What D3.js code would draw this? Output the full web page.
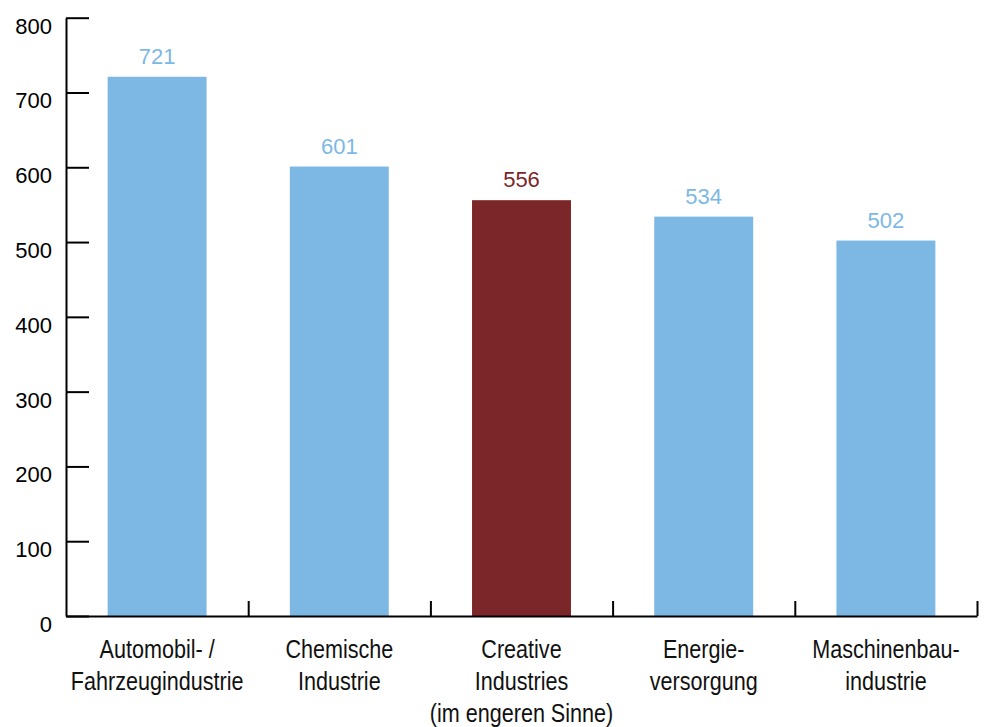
<!DOCTYPE html>
<html>
<head>
<meta charset="utf-8">
<script src="https://cdn.jsdelivr.net/npm/d3@7"></script>
<style>
  body { margin: 0; background: #fff; }
  svg { display: block; }
</style>
</head>
<body>
<div id="chart"></div>
<script>
// categories, one entry per bar (lines of each label)
const categories = [
  ["Automobil- /", "Fahrzeugindustrie"],
  ["Chemische", "Industrie"],
  ["Creative", "Industries", "(im engeren Sinne)"],
  ["Energie-", "versorgung"],
  ["Maschinenbau-", "industrie"]
];
const values = [721, 601, 556, 534, 502];
const highlighted = [false, false, true, false, false];
const yTicks = [0, 100, 200, 300, 400, 500, 600, 700, 800];

const width = 984;
const height = 727;
const blue = "#7db8e5";
const red = "#7b2629";

const svg = d3.select("#chart")
  .append("svg")
  .attr("width", width)
  .attr("height", height);

const keys = categories.map((c) => c.join(" "));

const xScale = d3.scaleBand()
  .domain(keys)
  .range([66, 977])
  .paddingInner(0.457)
  .paddingOuter(0.2285);

// band boundaries for the axis ticks
const step = xScale.step();
const x0 = 66;

const yScale = d3.scaleLinear()
  .domain([0, 800])
  .range([616, 17.7]);

// bars
svg.append("g")
  .selectAll("rect")
  .data(values)
  .join("rect")
  .attr("x", (d, i) => xScale(keys[i]))
  .attr("y", (d) => yScale(d))
  .attr("width", xScale.bandwidth())
  .attr("height", (d) => yScale(0) - yScale(d))
  .attr("fill", (d, i) => (highlighted[i] ? red : blue));

// value labels
svg.append("g")
  .selectAll("text")
  .data(values)
  .join("text")
  .attr("x", (d, i) => xScale(keys[i]) + xScale.bandwidth() / 2)
  .attr("y", (d) => yScale(d) - 13)
  .attr("text-anchor", "middle")
  .attr("font-family", "'Liberation Sans', Arial, sans-serif")
  .attr("font-size", "22px")
  .attr("fill", (d, i) => (highlighted[i] ? red : blue))
  .text((d) => d);

// y axis (ticks point inward)
const yAxis = svg.append("g")
  .attr("transform", "translate(66,0)")
  .call(d3.axisRight(yScale).tickValues(yTicks).tickSize(23).tickSizeOuter(0).tickFormat(""));
yAxis.select(".domain").attr("stroke", "#000").attr("stroke-width", 2);
yAxis.selectAll(".tick line").attr("stroke", "#000").attr("stroke-width", 2);

svg.append("g")
  .selectAll("text")
  .data(yTicks)
  .join("text")
  .attr("x", 52)
  .attr("y", (d) => yScale(d) + 16)
  .attr("text-anchor", "end")
  .attr("font-family", "'Liberation Sans', Arial, sans-serif")
  .attr("font-size", "22px")
  .attr("fill", "#000")
  .text((d) => d);

// x axis with ticks at band boundaries, pointing up
const boundaryScale = d3.scaleLinear().domain([0, 5]).range([x0, x0 + step * 5]);
const xAxis = svg.append("g")
  .attr("transform", "translate(0,616)")
  .call(d3.axisTop(boundaryScale).tickValues([1, 2, 3, 4, 5]).tickSize(15).tickSizeOuter(0).tickFormat(""));
xAxis.select(".domain").attr("stroke", "#000").attr("stroke-width", 2);
xAxis.selectAll(".tick line").attr("stroke", "#000").attr("stroke-width", 2);

// category labels
const catGroup = svg.append("g");
categories.forEach((lines, i) => {
  const cx = xScale(keys[i]) + xScale.bandwidth() / 2;
  lines.forEach((line, j) => {
    catGroup.append("text")
      .attr("transform", `translate(${cx},${657.5 + j * 32}) scale(0.83,1)`)
      .attr("text-anchor", "middle")
      .attr("font-family", "'Liberation Sans', Arial, sans-serif")
      .attr("font-size", "26px")
      .attr("fill", "#111")
      .text(line);
  });
});
</script>
</body>
</html>
